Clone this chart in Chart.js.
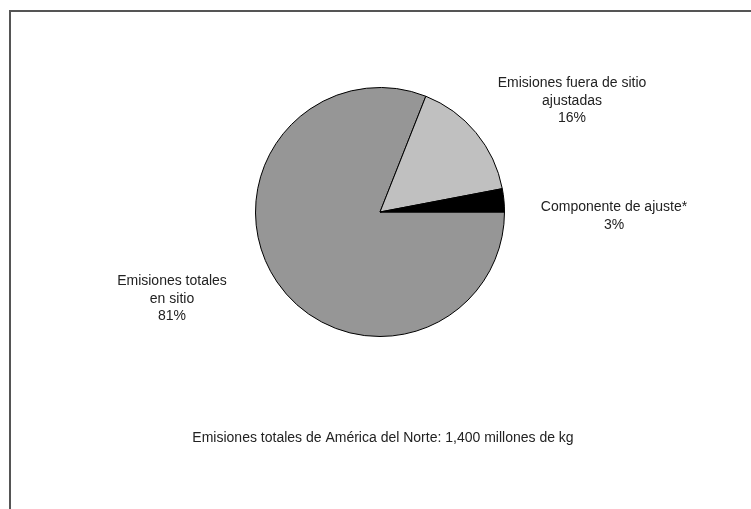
<!DOCTYPE html>
<html>
<head>
<meta charset="utf-8">
<script src="https://cdn.jsdelivr.net/npm/chart.js@4"></script>
<style>
    html, body { margin: 0; padding: 0; background: #fff; }
    #wrap { position: relative; width: 751px; height: 509px; overflow: hidden; }
    #frame {
        position: absolute; left: 9px; top: 10px; width: 760px; height: 520px;
        border-left: 2px solid #555; border-top: 2px solid #555;
    }
    canvas { position: absolute; left: 0; top: 0; }
</style>
</head>
<body>
<div id="wrap">
    <div id="frame"></div>
    <canvas id="chart" width="751" height="509"></canvas>
</div>
<script>
const categories = ["Emisiones totales en sitio", "Emisiones fuera de sitio ajustadas", "Componente de ajuste*"];
const shares = [81, 16, 3];
const sliceColors = ["#969696", "#c0c0c0", "#000000"];
const footnote = "Emisiones totales de América del Norte: 1,400 millones de kg";

// label text lines and their centre, relative to the pie centre
const labelLines = [
    ["Emisiones totales", "en sitio", "81%"],
    ["Emisiones fuera de sitio", "ajustadas", "16%"],
    ["Componente de ajuste*", "3%"]
];
const labelOffsets = [[-208, 87], [192, -111], [234, 4]];

const labelPlugin = {
    id: "labels",
    afterDraw(chart) {
        const ctx = chart.ctx;
        const arc = chart.getDatasetMeta(0).data[0];
        const cx = arc.x;
        const cy = arc.y;
        ctx.save();
        ctx.fillStyle = "#222";
        ctx.font = "14px 'Liberation Sans', Arial, sans-serif";
        ctx.textAlign = "center";
        ctx.textBaseline = "middle";
        for (let i = 0; i < labelLines.length; i++) {
            const lines = labelLines[i];
            const start = cy + labelOffsets[i][1] - (lines.length - 1) * 17.5 / 2;
            for (let j = 0; j < lines.length; j++) {
                ctx.fillText(lines[j], cx + labelOffsets[i][0], start + j * 17.5);
            }
        }
        ctx.fillText(footnote, 383, 438);
        ctx.restore();
    }
};

new Chart(document.getElementById("chart"), {
    type: "pie",
    data: {
        labels: categories,
        datasets: [{
            data: shares,
            backgroundColor: sliceColors,
            borderColor: "#000",
            borderWidth: 1
        }]
    },
    options: {
        responsive: false,
        animation: false,
        rotation: 90,
        layout: { padding: { left: 255, right: 246, top: 87, bottom: 172 } },
        plugins: {
            legend: { display: false },
            tooltip: { enabled: false }
        }
    },
    plugins: [labelPlugin]
});
</script>
</body>
</html>
